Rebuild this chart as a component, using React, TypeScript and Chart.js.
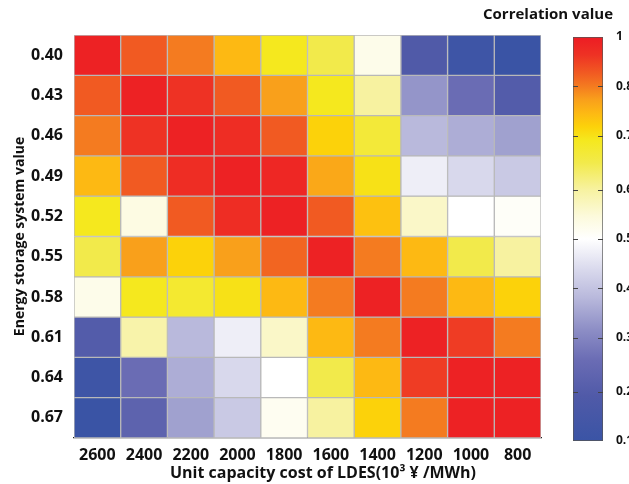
import React, { useEffect, useRef } from 'react';
import { Chart, registerables } from 'chart.js';

Chart.register(...registerables);

// ---- data ----
const costLabels = ['2600', '2400', '2200', '2000', '1800', '1600', '1400', '1200', '1000', '800'];
const storageLabels = ['0.40', '0.43', '0.46', '0.49', '0.52', '0.55', '0.58', '0.61', '0.64', '0.67'];

const row040 = [0.99, 0.92, 0.89, 0.83, 0.77, 0.72, 0.58, 0.2, 0.12, 0.1];
const row043 = [0.92, 0.99, 0.96, 0.92, 0.86, 0.77, 0.66, 0.36, 0.28, 0.21];
const row046 = [0.89, 0.96, 0.99, 0.97, 0.92, 0.8, 0.74, 0.42, 0.4, 0.38];
const row049 = [0.83, 0.92, 0.97, 0.99, 0.98, 0.85, 0.78, 0.52, 0.48, 0.45];
const row052 = [0.77, 0.59, 0.92, 0.97, 0.99, 0.92, 0.82, 0.62, 0.55, 0.56];
const row055 = [0.72, 0.86, 0.8, 0.86, 0.91, 0.99, 0.89, 0.83, 0.72, 0.66];
const row058 = [0.58, 0.77, 0.75, 0.78, 0.83, 0.89, 0.99, 0.89, 0.83, 0.8];
const row061 = [0.21, 0.65, 0.42, 0.52, 0.62, 0.83, 0.89, 0.99, 0.95, 0.89];
const row064 = [0.12, 0.28, 0.4, 0.48, 0.55, 0.72, 0.83, 0.95, 0.99, 0.99];
const row067 = [0.1, 0.24, 0.38, 0.45, 0.57, 0.66, 0.8, 0.89, 0.99, 0.99];

const correlationRows = [row040, row043, row046, row049, row052, row055, row058, row061, row064, row067];

const colorbarTicks = [0.1, 0.21, 0.33, 0.44, 0.55, 0.66, 0.78, 0.89, 1];
const colorbarMin = 0.1;
const colorbarMax = 1;

const xTitle = 'Unit capacity cost of LDES(10³ ¥ /MWh)';
const yTitle = 'Energy storage system value';
const barTitle = 'Correlation value';

// ---- colour scale ----
const colorStops: [number, number, number, number][] = [
  [0.1, 58, 84, 165],
  [0.2, 80, 90, 168],
  [0.28, 106, 108, 180],
  [0.35, 142, 143, 198],
  [0.42, 185, 185, 220],
  [0.48, 216, 216, 236],
  [0.55, 255, 255, 255],
  [0.6, 252, 250, 220],
  [0.66, 247, 242, 160],
  [0.72, 242, 234, 75],
  [0.77, 245, 232, 30],
  [0.8, 252, 210, 10],
  [0.83, 253, 185, 19],
  [0.86, 249, 160, 27],
  [0.89, 244, 123, 32],
  [0.92, 241, 90, 34],
  [0.96, 238, 50, 36],
  [1.0, 237, 28, 36],
];

function colorFor(v: number): string {
  if (v <= colorStops[0][0]) {
    const s = colorStops[0];
    return `rgb(${s[1]},${s[2]},${s[3]})`;
  }
  for (let i = 1; i < colorStops.length; i++) {
    const a = colorStops[i - 1];
    const b = colorStops[i];
    if (v <= b[0]) {
      const t = (v - a[0]) / (b[0] - a[0]);
      const r = Math.round(a[1] + (b[1] - a[1]) * t);
      const g = Math.round(a[2] + (b[2] - a[2]) * t);
      const bl = Math.round(a[3] + (b[3] - a[3]) * t);
      return `rgb(${r},${g},${bl})`;
    }
  }
  const s = colorStops[colorStops.length - 1];
  return `rgb(${s[1]},${s[2]},${s[3]})`;
}

const FONT = "'Open Sans', 'Noto Sans', sans-serif";

export default function App() {
  const mainRef = useRef<HTMLCanvasElement>(null);
  const barRef = useRef<HTMLCanvasElement>(null);

  useEffect(() => {
    if (!mainRef.current || !barRef.current) return;
    Chart.defaults.font.family = FONT;
    Chart.defaults.color = '#111';

    const textPlugin = {
      id: 'extraText',
      afterDraw(chart: any) {
        const ctx = chart.ctx;
        ctx.save();
        ctx.fillStyle = '#111';
        ctx.textBaseline = 'middle';
        ctx.font = `bold 16px ${FONT}`;
        ctx.textAlign = 'center';
        ctx.fillText(xTitle, 323, 473);
        ctx.font = `bold 15px ${FONT}`;
        ctx.textAlign = 'right';
        ctx.fillText(barTitle, 613, 15);
        ctx.restore();
      },
    };

    const main = new Chart(mainRef.current, {
      type: 'bar',
      data: {
        labels: costLabels,
        datasets: storageLabels.map((lab, r) => ({
          label: lab,
          data: correlationRows[r].map(() => [r, r + 1]),
          backgroundColor: correlationRows[r].map(colorFor),
          borderColor: '#b9b9b9',
          borderWidth: 1,
          borderSkipped: false,
          grouped: false,
          barPercentage: 1,
          categoryPercentage: 1,
        })) as any,
      },
      options: {
        responsive: false,
        animation: false,
        layout: { padding: { top: 35, right: 88, left: 0, bottom: 0 } },
        plugins: { legend: { display: false }, tooltip: { enabled: false } },
        scales: {
          x: {
            type: 'category',
            grid: { display: false },
            border: { display: true, color: '#222', width: 1.2 },
            ticks: { font: { size: 16, weight: 'bold' }, padding: 0, color: '#111', maxRotation: 0, autoSkip: false },
            afterFit: (s: any) => { s.height = 46; },
          },
          y: {
            type: 'linear',
            min: 0,
            max: 10,
            reverse: true,
            grid: { display: false },
            border: { display: false },
            afterBuildTicks: (s: any) => {
              s.ticks = storageLabels.map((_, i) => ({ value: i + 0.5 }));
            },
            ticks: {
              autoSkip: false,
              padding: 3,
              color: '#111',
              font: { size: 16, weight: 'bold' },
              callback: (v: any) => storageLabels[Math.floor(Number(v))],
            },
            title: {
              display: true,
              text: yTitle,
              color: '#111',
              font: { size: 14, weight: 'bold' },
              padding: { top: 12, bottom: 0 },
            },
            afterFit: (s: any) => { s.width = 74; },
          },
        },
      } as any,
      plugins: [textPlugin],
    });

    const dashPlugin = {
      id: 'dashes',
      afterDatasetsDraw(chart: any) {
        const ctx = chart.ctx;
        const area = chart.chartArea;
        const ys = chart.scales.y;
        ctx.save();
        ctx.strokeStyle = '#444';
        ctx.lineWidth = 1;
        colorbarTicks.forEach((t) => {
          if (t === colorbarMin || t === colorbarMax) return;
          const py = Math.round(ys.getPixelForValue(t)) + 0.5;
          ctx.beginPath();
          ctx.moveTo(area.left, py);
          ctx.lineTo(area.left + 5, py);
          ctx.moveTo(area.right - 5, py);
          ctx.lineTo(area.right, py);
          ctx.stroke();
        });
        ctx.restore();
      },
    };

    const bar = new Chart(barRef.current, {
      type: 'bar',
      data: {
        labels: [''],
        datasets: [
          {
            label: barTitle,
            data: [[colorbarMin, colorbarMax]],
            backgroundColor: (c: any) => {
              const chart = c.chart;
              const area = chart.chartArea;
              if (!area) return '#888';
              const ys = chart.scales.y;
              const g = chart.ctx.createLinearGradient(0, ys.getPixelForValue(colorbarMin), 0, ys.getPixelForValue(colorbarMax));
              colorStops.forEach((s) => {
                g.addColorStop((s[0] - colorbarMin) / (colorbarMax - colorbarMin), `rgb(${s[1]},${s[2]},${s[3]})`);
              });
              return g;
            },
            borderColor: '#555',
            borderWidth: 1,
            borderSkipped: false,
            barPercentage: 1,
            categoryPercentage: 1,
          },
        ] as any,
      },
      options: {
        responsive: false,
        animation: false,
        layout: { padding: { top: 37, bottom: 43, left: 13, right: 0 } },
        plugins: { legend: { display: false }, tooltip: { enabled: false } },
        scales: {
          x: { display: false },
          y: {
            type: 'linear',
            position: 'right',
            min: colorbarMin,
            max: colorbarMax,
            grid: { display: false },
            border: { display: false },
            afterBuildTicks: (s: any) => {
              s.ticks = colorbarTicks.map((v) => ({ value: v }));
            },
            ticks: {
              autoSkip: false,
              padding: 5,
              color: '#111',
              font: { size: 12, weight: 'bold' },
              callback: (v: any) => String(v),
            },
            afterFit: (s: any) => { s.width = 26; },
          },
        },
      } as any,
      plugins: [dashPlugin],
    });

    return () => {
      main.destroy();
      bar.destroy();
    };
  }, []);

  return (
    <div style={{ position: 'absolute', left: 0, top: 0, width: 629, height: 484, background: '#fff', overflow: 'hidden' }}>
      <canvas ref={mainRef} width={629} height={484} style={{ position: 'absolute', left: 0, top: 0 }} />
      <canvas ref={barRef} width={69} height={484} style={{ position: 'absolute', left: 560, top: 0 }} />
    </div>
  );
}
